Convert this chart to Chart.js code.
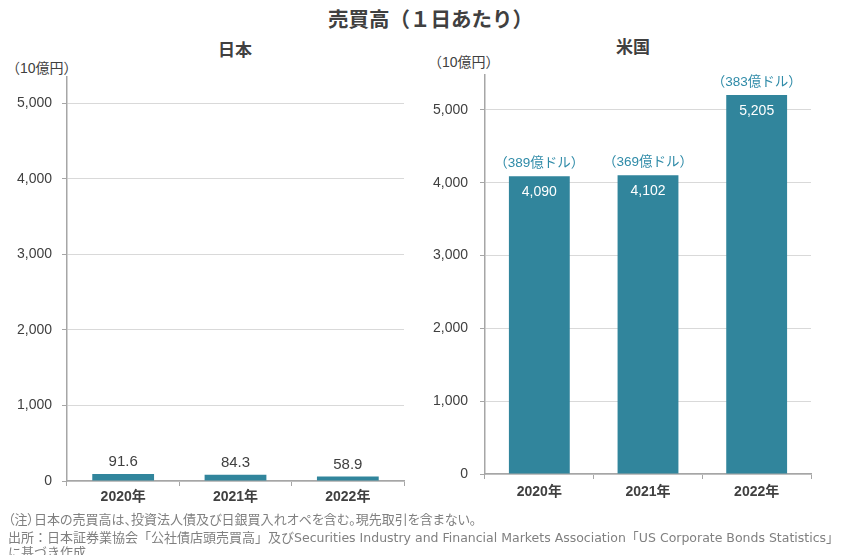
<!DOCTYPE html>
<html>
<head>
<meta charset="utf-8">
<script src="https://cdn.jsdelivr.net/npm/chart.js@4"></script>
<style>
  body { margin: 0; background: #fff; width: 861px; height: 555px; overflow: hidden; position: relative;
         font-family: "Liberation Sans", "Noto Sans CJK JP", sans-serif; color: #404040; }
  .abs { position: absolute; white-space: nowrap; }
  #title { left: 0; width: 861px; top: 3px; text-align: center; font-size: 20.5px; font-weight: bold; font-family: "Noto Sans CJK JP", sans-serif; }
  .sub { font-size: 17px; font-weight: bold; font-family: "Noto Sans CJK JP", sans-serif; transform: translateX(-50%); }
  .unit { font-size: 14px; font-family: "Liberation Sans", "Noto Sans CJK JP", sans-serif; }
  .note { left: 8px; font-size: 13px; color: #808080; font-family: "Noto Sans CJK JP", sans-serif; line-height: 16px; }
  .latin { font-family: "DejaVu Sans", sans-serif; font-size: 12.5px; }
  canvas { position: absolute; top: 0; }
</style>
</head>
<body>
<div id="title" class="abs">売買高（１日あたり）</div>
<div class="abs sub" style="left:235px; top:36px;">日本</div>
<div class="abs sub" style="left:633px; top:33px;">米国</div>
<div class="abs unit" style="left:6px; top:57px;">（10億円）</div>
<div class="abs unit" style="left:428px; top:51px;">（10億円）</div>

<div style="position:absolute; left:0; top:0; width:430px; height:510px;"><canvas id="jp"></canvas></div>
<div style="position:absolute; left:430px; top:0; width:431px; height:510px;"><canvas id="us"></canvas></div>

<div class="abs note" style="top:511px; font-feature-settings: 'palt';">（注）日本の売買高は、投資法人債及び日銀買入れオペを含む。現先取引を含まない。</div>
<div class="abs note" style="top:529px;">出所：日本証券業協会「公社債店頭売買高」及び<span class="latin">Securities Industry and Financial Markets Association</span>「<span class="latin">US Corporate Bonds Statistics</span>」</div>
<div class="abs note" style="top:544px;">に基づき作成</div>

<script>
const years = ["2020年", "2021年", "2022年"];
const japanValues = [91.6, 84.3, 58.9];
const usValues = [4090, 4102, 5205];
const usDollarLabels = ["（389億ドル）", "（369億ドル）", "（383億ドル）"];
const yTicks = [0, 1000, 2000, 3000, 4000, 5000];

const teal = "#31859C";
const textColor = "#404040";
const fontFamily = '"Liberation Sans", "Noto Sans CJK JP", sans-serif';

// labels on / above the bars
const barLabels = {
  id: "barLabels",
  afterDatasetsDraw(chart, args, opts) {
    const ctx = chart.ctx;
    const bars = chart.getDatasetMeta(0).data;
    const values = chart.data.datasets[0].data;
    ctx.save();
    ctx.textAlign = "center";
    ctx.textBaseline = "middle";
    bars.forEach((bar, i) => {
      if (opts.mode === "jp") {
        ctx.fillStyle = textColor;
        ctx.font = "15px " + fontFamily;
        ctx.fillText(values[i].toFixed(1), bar.x, bar.y - 12);
      } else {
        ctx.fillStyle = "#fff";
        ctx.font = "14px " + fontFamily;
        ctx.fillText(values[i].toLocaleString("en-US"), bar.x, bar.y + 16);
        ctx.fillStyle = "#2F8BA8";
        ctx.font = "13.5px " + fontFamily;
        ctx.fillText(usDollarLabels[i], bar.x, bar.y - 13);
      }
    });
    ctx.restore();
  }
};

function makeChart(id, values, mode, opt) {
  return new Chart(document.getElementById(id), {
    type: "bar",
    data: {
      labels: years,
      datasets: [{
        data: values,
        backgroundColor: teal,
        barPercentage: opt.barPct,
        categoryPercentage: 1
      }]
    },
    options: {
      responsive: true,
      maintainAspectRatio: false,
      animation: false,
      events: [],
      layout: { padding: { top: opt.top, right: opt.right, left: 0, bottom: 0 } },
      plugins: {
        legend: { display: false },
        tooltip: { enabled: false },
        barLabels: { mode: mode }
      },
      scales: {
        x: {
          grid: { offset: true, drawOnChartArea: false, tickLength: 5, color: "#a6a6a6" },
          border: { color: "#a6a6a6", width: 1.5 },
          ticks: { color: textColor, padding: opt.xPad, font: { family: fontFamily, size: 14, weight: "bold" } },
          afterFit: s => { s.height = opt.xH; }
        },
        y: {
          min: 0,
          max: opt.max,
          afterBuildTicks: s => { s.ticks = yTicks.map(v => ({ value: v })); },
          grid: { color: "#d9d9d9", tickLength: 5, tickColor: "#a6a6a6" },
          border: { color: "#a6a6a6", width: 1.5 },
          ticks: {
            color: textColor, padding: opt.yPad,
            font: { family: fontFamily, size: 14 },
            callback: v => v.toLocaleString("en-US")
          },
          afterFit: s => { s.width = opt.yW; }
        }
      }
    },
    plugins: [barLabels]
  });
}

makeChart("jp", japanValues, "jp", { top: 77, right: 26, xH: 29, xPad: 3, yW: 67, yPad: 10, max: 5350, barPct: 0.55 });
makeChart("us", usValues, "us", { top: 75, right: 50, xH: 36, xPad: 5, yW: 55, yPad: 12, max: 5480, barPct: 0.56 });
</script>
</body>
</html>
